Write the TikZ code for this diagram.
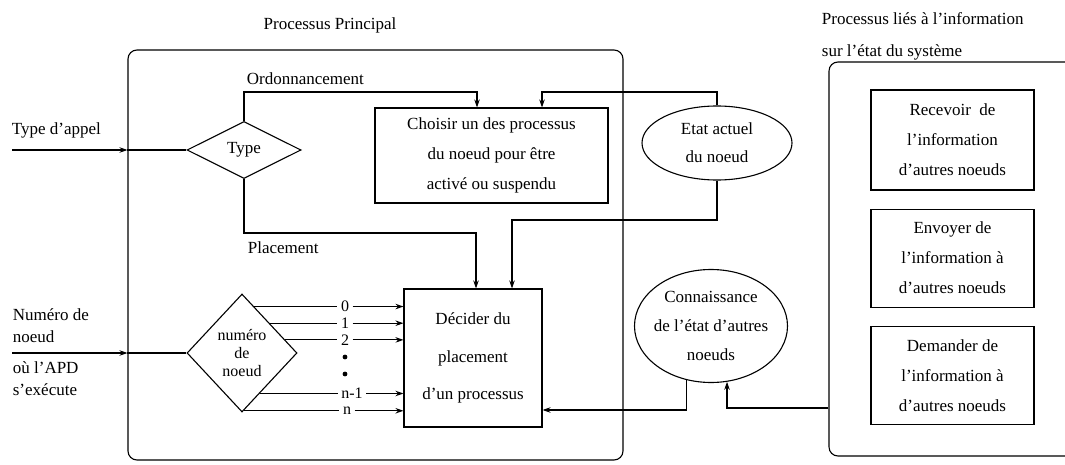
\documentclass[tikz,border=0pt]{standalone}
\usepackage{fontspec}
\setmainfont{Liberation Serif}
\usetikzlibrary{shapes.geometric,positioning,calc,arrows.meta}

\begin{document}
\begin{tikzpicture}[x=1pt,y=-1pt,>={Stealth[length=8pt,width=5.5pt]},line width=1.1pt,
    every node/.style={font=\fontsize{17}{30}\selectfont},
    bloc/.style={draw,rectangle,align=center,inner sep=0pt},
    losange/.style={draw,diamond,align=center,inner sep=0pt},
    bulle/.style={draw,ellipse,align=center,inner sep=0pt},
    cadre/.style={draw,rectangle,rounded corners=9pt,inner sep=0pt},
    lbl/.style={inner sep=3pt,font=\fontsize{16}{16}\selectfont}]
    \useasboundingbox (0,0) rectangle (1065,465);

    % les deux cadres
    \node[cadre,minimum width=495,minimum height=410] (princ) at (375.5,255) {};
    \node[cadre,minimum width=300,minimum height=394] (info) at (979,259) {};
    \node[anchor=base] at (330,30) {Processus Principal};
    \node[anchor=west,align=left,font=\fontsize{17}{32}\selectfont] at (818,36)
        {Processus liés à l'information\\sur l'état du système};

    % processus principal
    \node[losange,minimum width=114,minimum height=57] (typ) at (244,150) {Type};
    \node[losange,minimum width=110,minimum height=118,font=\fontsize{16}{18}\selectfont]
        (num) at (242,353) {numéro\\de\\noeud};
    \node[bloc,minimum width=233,minimum height=95] (choisir) at (491.5,155.5)
        {Choisir un des processus\\du noeud pour être\\activé ou suspendu};
    \node[bloc,minimum width=138,minimum height=138,font=\fontsize{17}{37.5}\selectfont]
        (dec) at (473,358) {Décider du\\placement\\d'un processus};
    \node[bulle,minimum width=150,minimum height=74,font=\fontsize{17}{28}\selectfont]
        (etat) at (717,143) {Etat actuel\\du noeud};
    \node[bulle,inner xsep=-5pt,minimum width=153,minimum height=113,font=\fontsize{17}{29}\selectfont]
        (conn) at (711,326) {Connaissance\\de l'état d'autres\\noeuds};

    % processus d'information
    \node[bloc,minimum width=163,minimum height=100] (recv) at (952.5,140)
        {Recevoir \ de\\l'information\\d'autres noeuds};
    \node[bloc,minimum width=163,minimum height=98] (envoi) [below=18pt of recv]
        {Envoyer de\\l'information à\\d'autres noeuds};
    \node[bloc,minimum width=163,minimum height=98] (dem) [below=18pt of envoi]
        {Demander de\\l'information à\\d'autres noeuds};

    % entrees
    \node[anchor=west] (appel) at (8,130) {Type d'appel};
    \coordinate (appin) at (12,150);
    \draw[->] (appin) -- (appin -| princ.west);
    \draw (appin -| princ.west) -- (typ.west);
    \node[anchor=west,align=left,font=\fontsize{17}{22}\selectfont] (numtxt) at (9,326) {Numéro de\\noeud};
    \node[anchor=west,align=left,font=\fontsize{17}{22}\selectfont] (exe) at (9,379) {où l'APD\\s'exécute};
    \coordinate (numin) at (12,353);
    \draw[->] (numin) -- (numin -| princ.west);
    \draw (numin -| princ.west) -- (num.west);

    % type d'appel
    \coordinate (ordo) at (477,92);
    \draw[->] (typ.north) |- (ordo) -- (ordo |- choisir.north);
    \node[anchor=base west] at (243,85) {Ordonnancement};
    \coordinate (plac) at (476,233);
    \draw[->] (typ.south) |- (plac) -- (plac |- dec.north);
    \node[anchor=base west] at (244,253) {Placement};

    % etat du noeud
    \coordinate (etatin) at (542,92);
    \draw[->] (etat.north) |- (etatin) -- (etatin |- choisir.north);
    \coordinate (etatout) at (512,220);
    \draw[->] (etat.south) |- (etatout) -- (etatout |- dec.north);

    % sorties du losange
    \foreach \a/\b/\t/\xx/\lab [count=\i] in {north/east/0.22/345/0, north/east/0.5/345/1,
        north/east/0.78/345/2, east/south/0.68/352/n-1, east/south/0.97/347/n} {
        \coordinate (s\i) at ($(num.\a)!\t!(num.\b)$);
        \coordinate (x\i) at (\xx,0);
        \node[lbl,inner ysep=1pt] (l\i) at (x\i |- s\i) {\lab};
        \draw (s\i) -- (l\i.west);
        \draw[->] (l\i.east) -- (l\i -| dec.west);
    }
    \fill (345,357) circle (2.4pt);
    \fill (345,374) circle (2.4pt);

    % connaissance
    \draw[->] (conn.-114) |- ([yshift=-52pt]dec.east);
    \draw[->] ([yshift=-149pt]info.west) -| (conn.-74);
\end{tikzpicture}
\end{document}
